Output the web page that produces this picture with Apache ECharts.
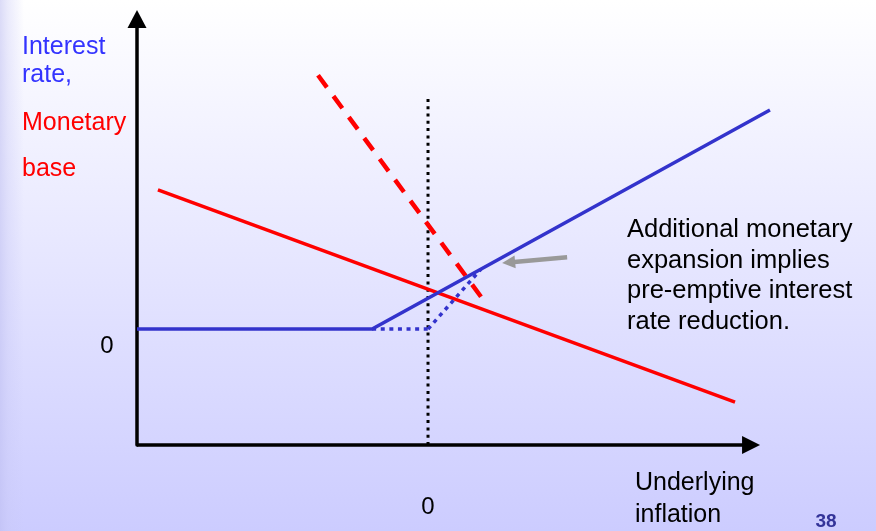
<!DOCTYPE html>
<html>
<head>
<meta charset="utf-8">
<script src="https://cdn.jsdelivr.net/npm/echarts@6/dist/echarts.min.js"></script>
<style>
  html, body { margin: 0; padding: 0; }
  #main { width: 876px; height: 531px; }
</style>
</head>
<body>
<div id="main"></div>
<script>
// Axis ranges: underlying inflation (x) against interest rate / monetary base (y)
const xRange = [-10, 11.82];
const yRange = [-4, 10.7];
// The drawn inflation axis stops (arrow) before the right edge of the plot
const xArrowEnd = 11.1;
const zeroTickLabels = ['0', '0'];

// Interest-rate rule with a zero floor, then rising with inflation
const rateRule = [[-10, 0], [-1.92, 0], [11.75, 7.56]];
// Pre-emptive path: floor held to zero inflation, then a steeper rise
const rateFloorPath = [[-1.92, 0], [0, 0]];
const rateCutPath = [[0, 0], [1.82, 2.07]];
// Monetary base: normal rule and the additional expansion
const baseRule = [[-9.28, 4.80], [10.55, -2.52]];
const baseExpansion = [[-3.78, 8.76], [2.03, 0.83]];
// Zero-inflation marker
const zeroInflation = [[0, -4], [0, 8.0]];
// Pointer from the note toward the pre-emptive cut
const pointer = [[4.78, 2.48], [2.77, 2.30]];

// Text
const yTitleRate = ['Interest', 'rate,'];
const yTitleBase = ['Monetary', 'base'];
const xTitle = 'Underlying\ninflation';
const note = 'Additional monetary\nexpansion implies\npre-emptive interest\nrate reduction.';
const pageNumber = '38';

const FONT = "'Liberation Sans', Arial, sans-serif";
const BLUE = '#3333cc';
const RED = '#ff0000';

const chart = echarts.init(document.getElementById('main'), null, { renderer: 'canvas' });

function lineSeries(name, data, style) {
  return {
    name: name,
    type: 'line',
    data: data,
    symbol: 'none',
    showSymbol: false,
    silent: true,
    clip: false,
    animation: false,
    lineStyle: Object.assign({ cap: 'butt', join: 'miter' }, style)
  };
}

function arrowLine(from, to, color, width, size) {
  return {
    silent: true,
    animation: false,
    symbol: ['none', 'triangle'],
    symbolSize: size,
    label: { show: false },
    emphasis: { disabled: true },
    lineStyle: { color: color, width: width, type: 'solid', cap: 'butt' },
    data: [[{ coord: from }, { coord: to }]]
  };
}

const axisCommon = {
  type: 'value',
  splitLine: { show: false },
  axisTick: { show: false },
  axisLabel: { show: false }
};

chart.setOption({
  animation: false,
  backgroundColor: new echarts.graphic.LinearGradient(0, 0, 0, 1, [
    { offset: 0, color: '#ffffff' },
    { offset: 1, color: '#ccccff' }
  ]),
  grid: { left: 137, right: 104, top: 19, bottom: 86, containLabel: false, outerBoundsMode: 'none' },
  xAxis: Object.assign({}, axisCommon, {
    min: xRange[0], max: xRange[1],
    axisLine: { show: false }
  }),
  yAxis: Object.assign({}, axisCommon, {
    min: yRange[0], max: yRange[1],
    axisLine: {
      show: true,
      onZero: false,
      symbol: ['none', 'triangle'],
      symbolSize: [19, 18],
      lineStyle: { color: '#000000', width: 3.5 }
    }
  }),
  series: [
    // inflation axis with its arrow
    Object.assign(lineSeries('inflation axis', [], { color: '#000000', width: 3.5 }), {
      markLine: arrowLine([xRange[0], yRange[0]], [xArrowEnd, yRange[0]], '#000000', 3.5, 18)
    }),
    lineSeries('zero inflation', zeroInflation, { color: '#000000', width: 3, type: [3, 4.3] }),
    lineSeries('base expansion', baseExpansion, { color: RED, width: 4.5, type: [15, 11] }),
    lineSeries('base rule', baseRule, { color: RED, width: 3.5, type: 'solid' }),
    lineSeries('rate floor path', rateFloorPath, { color: BLUE, width: 3.5, type: [4, 4.6] }),
    lineSeries('rate cut path', rateCutPath, { color: BLUE, width: 3.5, type: [4, 4.6] }),
    Object.assign(lineSeries('rate rule', rateRule, { color: BLUE, width: 3.5, type: 'solid' }), {
      markLine: arrowLine(pointer[0], pointer[1], '#999999', 4.5, 13)
    })
  ]
});

// Zero labels placed from the axes' own scales
const yZero = chart.convertToPixel({ gridIndex: 0 }, [xRange[0], 0]);
const xZero = chart.convertToPixel({ gridIndex: 0 }, [0, yRange[0]]);

function txt(text, x, y, color, extra) {
  return {
    type: 'text',
    silent: true,
    x: x,
    y: y,
    style: Object.assign({
      text: text,
      fill: color,
      font: '25px ' + FONT,
      align: 'left',
      verticalAlign: 'middle'
    }, extra || {})
  };
}

chart.setOption({
  graphic: [
    {
      type: 'rect',
      silent: true,
      z: -1,
      shape: { x: 0, y: 0, width: 24, height: 531 },
      style: {
        fill: new echarts.graphic.LinearGradient(0, 0, 1, 0, [
          { offset: 0, color: 'rgba(190,190,240,0.55)' },
          { offset: 0.35, color: 'rgba(200,200,245,0.35)' },
          { offset: 1, color: 'rgba(200,200,245,0)' }
        ])
      }
    },
    txt(yTitleRate[0], 22, 47, '#3333ff'),
    txt(yTitleRate[1], 22, 75, '#3333ff'),
    txt(yTitleBase[0], 22, 123, '#ff0000'),
    txt(yTitleBase[1], 22, 169, '#ff0000'),
    txt(zeroTickLabels[0], yZero[0] - 30, yZero[1] + 17, '#000000', { align: 'center', font: '24px ' + FONT }),
    txt(zeroTickLabels[1], xZero[0], xZero[1] + 62, '#000000', { align: 'center', font: '24px ' + FONT }),
    txt(xTitle, 635, 499, '#000000', { lineHeight: 32 }),
    txt(note, 627, 276, '#000000', { lineHeight: 30.8, font: '25.5px ' + FONT }),
    txt(pageNumber, 826, 522, '#333399', { align: 'center', font: 'bold 19px ' + FONT })
  ]
});
</script>
</body>
</html>
